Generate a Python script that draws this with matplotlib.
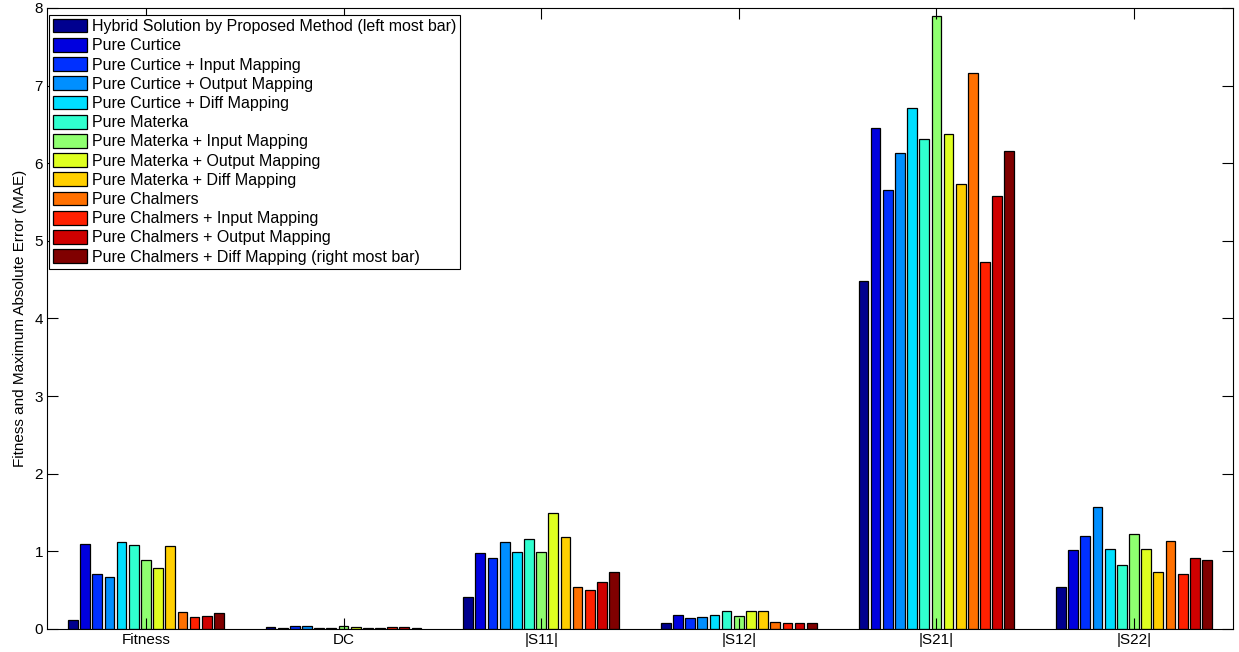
import numpy as np
import matplotlib
matplotlib.use('Agg')
import matplotlib.pyplot as plt

plt.rcParams['font.family'] = ['Liberation Sans', 'DejaVu Sans']
plt.rcParams['font.size'] = 11

# groups on the x axis
groups = ['Fitness', 'DC', '|S11|', '|S12|', '|S21|', '|S22|']

# one label per series (legend order)
series = [
    'Hybrid Solution by Proposed Method (left most bar)',
    'Pure Curtice',
    'Pure Curtice + Input Mapping',
    'Pure Curtice + Output Mapping',
    'Pure Curtice + Diff Mapping',
    'Pure Materka',
    'Pure Materka + Input Mapping',
    'Pure Materka + Output Mapping',
    'Pure Materka + Diff Mapping',
    'Pure Chalmers',
    'Pure Chalmers + Input Mapping',
    'Pure Chalmers + Output Mapping',
    'Pure Chalmers + Diff Mapping (right most bar)',
]

# values per group, one entry per series
fitness = [0.11, 1.09, 0.71, 0.67, 1.12, 1.08, 0.89, 0.78, 1.07, 0.22, 0.16, 0.17, 0.20]
dc = [0.026, 0.017, 0.043, 0.034, 0.017, 0.009, 0.034, 0.030, 0.013, 0.009, 0.022, 0.022, 0.013]
s11 = [0.41, 0.975, 0.91, 1.12, 0.99, 1.156, 0.99, 1.49, 1.18, 0.54, 0.50, 0.60, 0.73]
s12 = [0.073, 0.18, 0.146, 0.155, 0.176, 0.232, 0.168, 0.228, 0.228, 0.086, 0.077, 0.082, 0.075]
s21 = [4.48, 6.45, 5.65, 6.13, 6.71, 6.31, 7.90, 6.37, 5.73, 7.16, 4.73, 5.58, 6.16]
s22 = [0.547, 1.018, 1.195, 1.565, 1.034, 0.82, 1.22, 1.03, 0.74, 1.13, 0.71, 0.91, 0.89]

data = np.array([fitness, dc, s11, s12, s21, s22])  # groups x series


def matlab_jet(m=64):
    # same construction as MATLAB's jet(m)
    n = int(np.ceil(m / 4))
    u = np.concatenate([np.arange(1, n + 1) / n, np.ones(n - 1), np.arange(n, 0, -1) / n])
    g = int(np.ceil(n / 2)) - (1 if m % 4 == 1 else 0) + np.arange(1, len(u) + 1)
    r = g + n
    b = g - n
    J = np.zeros((m, 3))
    J[r[r <= m] - 1, 0] = u[r <= m]
    J[g[g <= m] - 1, 1] = u[g <= m]
    J[b[b >= 1] - 1, 2] = u[b >= 1]
    return J


n_groups, n_series = data.shape
cmap = matlab_jet(64)
# scaled CData mapping, series index 1..n onto the 64 colour rows
idx = np.minimum(np.floor(np.arange(n_series) / (n_series - 1) * 64).astype(int), 63)
colors = cmap[idx]

x = np.arange(1, n_groups + 1)
group_width = 0.8
slot = group_width / n_series
bar_w = slot * 0.8

fig = plt.figure(figsize=(12.39, 6.52), dpi=100)
ax = fig.add_axes([0.038, 0.0353, 0.957, 0.9526])

for i in range(n_series):
    offset = -group_width / 2 + slot * (i + 0.5)
    ax.bar(x + offset, data[:, i], width=bar_w, color=colors[i],
           edgecolor='black', linewidth=0.9, label=series[i])

ax.set_xlim(0.5, 6.5)
ax.set_ylim(0, 8)
ax.set_xticks(x)
ax.set_xticklabels(groups)
ax.set_yticks(range(0, 9))
ax.tick_params(direction='in', length=8, top=True, right=True, pad=3)
ax.set_ylabel('Fitness and Maximum Absolute Error (MAE)', labelpad=5)

leg = ax.legend(loc='upper left', bbox_to_anchor=(0.002, 0.989), fancybox=False,
                framealpha=1, edgecolor='black', handlelength=2.1, handleheight=0.95,
                handletextpad=0.3, labelspacing=0.24, borderpad=0.25, borderaxespad=0,
                prop={'size': 11.5})
leg.get_frame().set_linewidth(0.8)

fig.savefig('out.png', dpi=100)
